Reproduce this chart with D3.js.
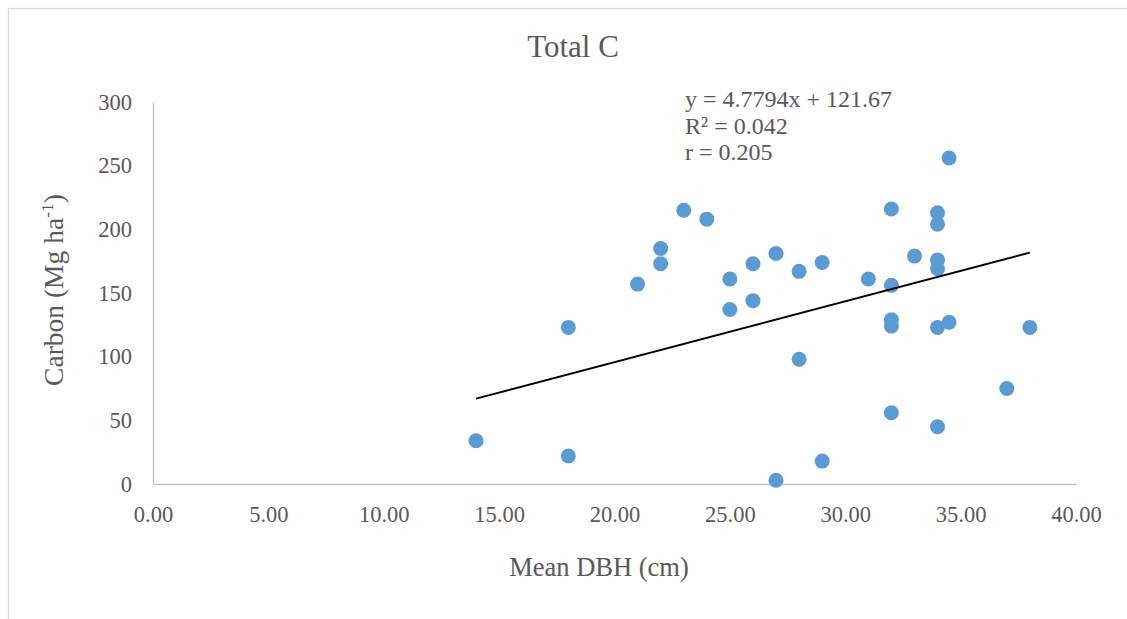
<!DOCTYPE html>
<html>
<head>
<meta charset="utf-8">
<script src="https://cdn.jsdelivr.net/npm/d3@7"></script>
<style>
  html, body { margin: 0; padding: 0; background: #fff; }
  svg { display: block; }
</style>
</head>
<body>
<svg id="chart" width="1127" height="619"></svg>
<script>
// Mean DBH (cm) per plot
const dbh = [14, 18, 18, 21, 22, 22, 23, 24, 25, 25, 26, 26, 27, 27, 28, 28, 29, 29,
             31, 32, 32, 32, 32, 32, 33, 34, 34, 34, 34, 34, 34, 34.5, 34.5, 37, 38];
// Total carbon (Mg ha-1) per plot
const carbon = [34, 123, 22, 157, 185, 173, 215, 208, 161, 137, 173, 144, 181, 3, 167, 98, 174, 18,
                161, 216, 156, 129, 124, 56, 179, 213, 204, 176, 169, 123, 45, 256, 127, 75, 123];

// Linear trend line end points (x, y)
const trendX = [14, 38];
const trendY = [67.0, 181.7];

// Trend line annotation
const trendLabels = ["y = 4.7794x + 121.67", "R² = 0.042", "r = 0.205"];

const xTicks = [0, 5, 10, 15, 20, 25, 30, 35, 40];
const yTicks = [0, 50, 100, 150, 200, 250, 300];

const svg = d3.select("#chart");
const W = 1127, H = 619;
const font = "'Liberation Serif', 'Times New Roman', serif";
const textColor = "#595959";

// chart area frame
svg.append("rect")
  .attr("x", 8.5).attr("y", 8.5)
  .attr("width", W + 20).attr("height", H + 20)
  .attr("fill", "#fff")
  .attr("stroke", "#d9d9d9").attr("stroke-width", 1.2);

const plot = { left: 153, right: 1076, top: 102, bottom: 484 };

const x = d3.scaleLinear().domain([0, 40]).range([plot.left, plot.right]);
const y = d3.scaleLinear().domain([0, 300]).range([plot.bottom, plot.top]);

// x axis
const xAxis = svg.append("g")
  .attr("transform", `translate(0,${plot.bottom})`)
  .call(d3.axisBottom(x).tickValues(xTicks).tickFormat(d3.format(".2f")).tickSize(0).tickPadding(14));
xAxis.select(".domain").attr("stroke", "#bfbfbf").attr("stroke-width", 1.4);
xAxis.selectAll("text")
  .attr("font-family", font).attr("font-size", 22.5).attr("fill", textColor)
  .attr("dy", "0.71em").attr("y", 22);

// y axis
const yAxis = svg.append("g")
  .attr("transform", `translate(${plot.left},0)`)
  .call(d3.axisLeft(y).tickValues(yTicks).tickFormat(d3.format("d")).tickSize(0).tickPadding(21));
yAxis.select(".domain").attr("stroke", "#bfbfbf").attr("stroke-width", 1.4);
yAxis.selectAll("text")
  .attr("font-family", font).attr("font-size", 22.5).attr("fill", textColor)
  .attr("dy", "0.32em");

// scatter points
svg.append("g")
  .selectAll("circle")
  .data(d3.zip(dbh, carbon))
  .join("circle")
  .attr("cx", d => x(d[0]))
  .attr("cy", d => y(d[1]))
  .attr("r", 7.5)
  .attr("fill", "#5b9bd5");

// linear trend line
svg.append("path")
  .datum(d3.zip(trendX, trendY))
  .attr("d", d3.line().x(d => x(d[0])).y(d => y(d[1])))
  .attr("fill", "none")
  .attr("stroke", "#000")
  .attr("stroke-width", 1.8);

// title
svg.append("text")
  .attr("x", 573).attr("y", 57)
  .attr("text-anchor", "middle")
  .attr("font-family", font).attr("font-size", 31).attr("fill", textColor)
  .text("Total C");

// trend annotation
svg.append("g").selectAll("text")
  .data(trendLabels)
  .join("text")
  .attr("x", 685)
  .attr("y", (d, i) => 107 + i * 26.5)
  .attr("font-family", font).attr("font-size", 24).attr("fill", textColor)
  .text(d => d);

// x axis title
svg.append("text")
  .attr("x", 599).attr("y", 576)
  .attr("text-anchor", "middle")
  .attr("font-family", font).attr("font-size", 26.5).attr("fill", textColor)
  .text("Mean DBH (cm)");

// y axis title
const yt = svg.append("text")
  .attr("transform", "translate(63,290) rotate(-90)")
  .attr("text-anchor", "middle")
  .attr("font-family", font).attr("font-size", 27.5).attr("fill", textColor);
yt.append("tspan").text("Carbon (Mg ha");
yt.append("tspan").attr("font-size", 17.5).attr("dy", -10).text("-1");
yt.append("tspan").attr("dy", 10).text(")");
</script>
</body>
</html>
